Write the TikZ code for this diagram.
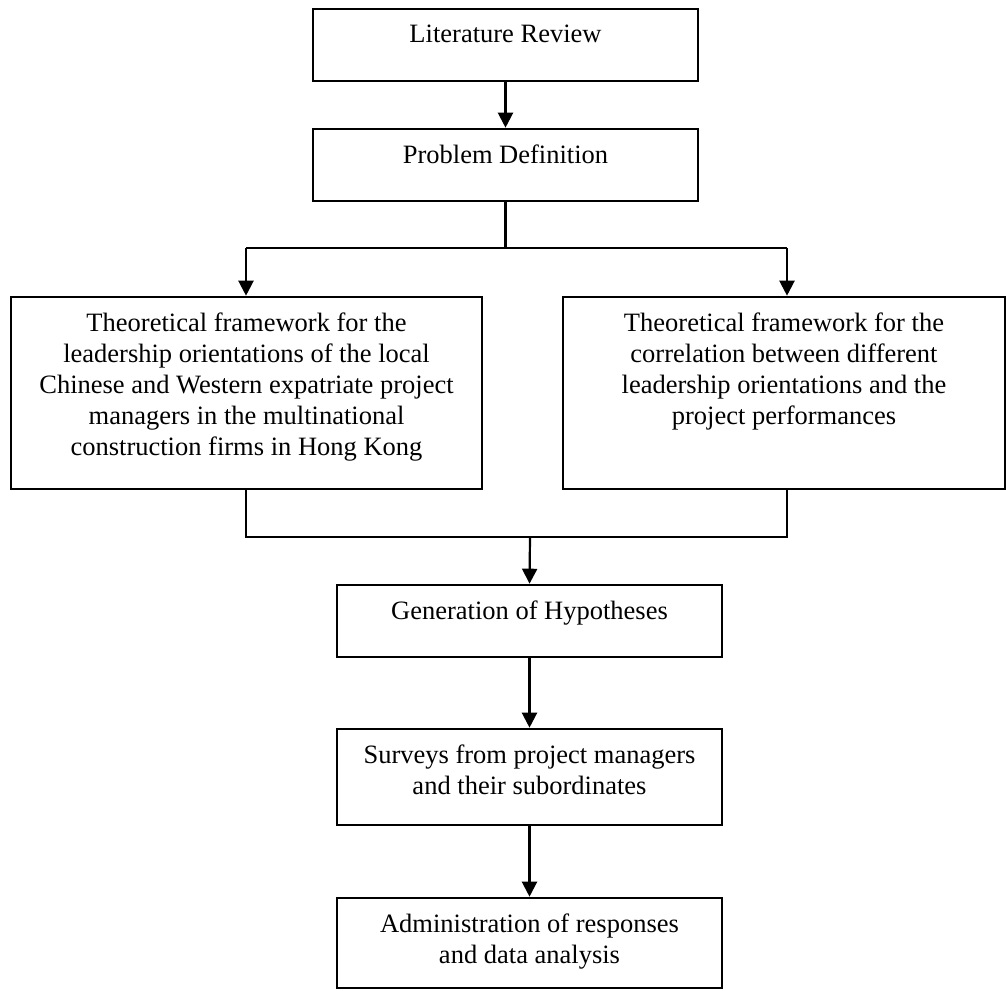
\documentclass[tikz,border=0pt]{standalone}
\usepackage{fontspec}
\setmainfont{Liberation Serif}
\usetikzlibrary{arrows.meta}
\tikzset{
  box/.style={draw, line width=1.4pt, inner sep=0pt, font=\fontsize{26.5}{31}\selectfont},
  conn/.style={line width=2.2pt},
  arr/.style={line width=2.2pt, -{Triangle[length=15pt,width=15pt]}, shorten >=0.6pt}
}
\newcommand{\firstline}{\rule{0pt}{34pt}}
\begin{document}
\begin{tikzpicture}[x=1pt,y=-1pt]
\useasboundingbox (0,0) rectangle (1006,990);
% boxes (center x, center y)
\node[box] (lit) at (505.5,45) {\parbox[c][72pt][t]{385pt}{\centering\firstline Literature Review}};
\node[box] (prob) at (505.5,165) {\parbox[c][72pt][t]{385pt}{\centering\firstline Problem Definition}};
\node[box] (left) at (246.5,393) {\parbox[c][192pt][t]{471pt}{\centering\firstline Theoretical framework for the\\ leadership orientations of the local\\ Chinese and Western expatriate project\\ managers in the multinational\\ construction firms in Hong Kong}};
\node[box] (right) at (784,393) {\parbox[c][192pt][t]{442pt}{\centering\firstline Theoretical framework for the\\ correlation between different\\ leadership orientations and the\\ project performances}};
\node[box] (gen) at (529.5,621) {\parbox[c][72pt][t]{385pt}{\centering\firstline Generation of Hypotheses}};
\node[box] (surv) at (529.5,777) {\parbox[c][96pt][t]{385pt}{\centering\firstline Surveys from project managers\\ and their subordinates}};
\node[box] (adm) at (529.5,943) {\parbox[c][90pt][t]{385pt}{\centering\firstline Administration of responses\\ and data analysis}};
% junction coordinates
\coordinate (tl) at (246,248);
\coordinate (tr) at (787,248);
\coordinate (bl) at (246,537);
\coordinate (br) at (787,537);
\coordinate (bm) at (530,537);
% connectors
\draw[arr] (lit.south) -- (prob.north);
\draw[conn] (prob.south) -- (prob.south |- tl);
\draw[conn] (tl) -- (tr);
\draw[arr] (tl) -- (tl |- left.north);
\draw[arr] (tr) -- (tr |- right.north);
\draw[conn] (left.south -| bl) -- (bl) -- (br) -- (right.south -| br);
\draw[arr] (bm) -- (gen.north);
\draw[arr] (gen.south) -- (surv.north);
\draw[arr] (surv.south) -- (adm.north);
\end{tikzpicture}
\end{document}
